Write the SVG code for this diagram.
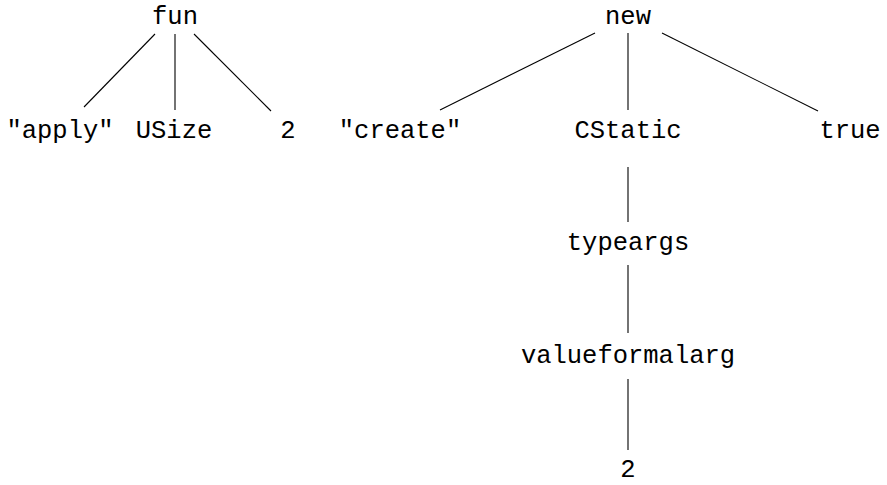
<svg xmlns="http://www.w3.org/2000/svg" width="887" height="485" viewBox="0 0 887 485">
<style>
text{font-family:"Liberation Mono","DejaVu Sans Mono",monospace;font-size:25.5px;fill:#000;text-anchor:middle}
line{stroke:#000;stroke-width:1.1}
</style>
<rect width="887" height="485" fill="#fff"/>
<g id="connectors">
<line x1="155" y1="34" x2="84" y2="107"/>
<line x1="175" y1="34" x2="175" y2="110"/>
<line x1="194" y1="34" x2="271" y2="111"/>
<line x1="595" y1="33" x2="440" y2="110"/>
<line x1="628" y1="33" x2="628" y2="110"/>
<line x1="662" y1="33" x2="818" y2="111"/>
<line x1="628" y1="167" x2="628" y2="222"/>
<line x1="628" y1="265" x2="628" y2="333"/>
<line x1="628" y1="379" x2="628" y2="450"/>
</g>
<g id="fun"><text x="175" y="24">fun</text></g>
<g id="apply"><text x="60" y="138">"apply"</text></g>
<g id="usize"><text x="174" y="138">USize</text></g>
<g id="two1"><text x="288" y="138">2</text></g>
<g id="new"><text x="628" y="24">new</text></g>
<g id="create"><text x="400" y="138">"create"</text></g>
<g id="cstatic"><text x="628" y="138">CStatic</text></g>
<g id="true"><text x="850" y="138">true</text></g>
<g id="typeargs"><text x="628" y="250">typeargs</text></g>
<g id="valueformalarg"><text x="628" y="363">valueformalarg</text></g>
<g id="two2"><text x="628" y="477">2</text></g>
</svg>
